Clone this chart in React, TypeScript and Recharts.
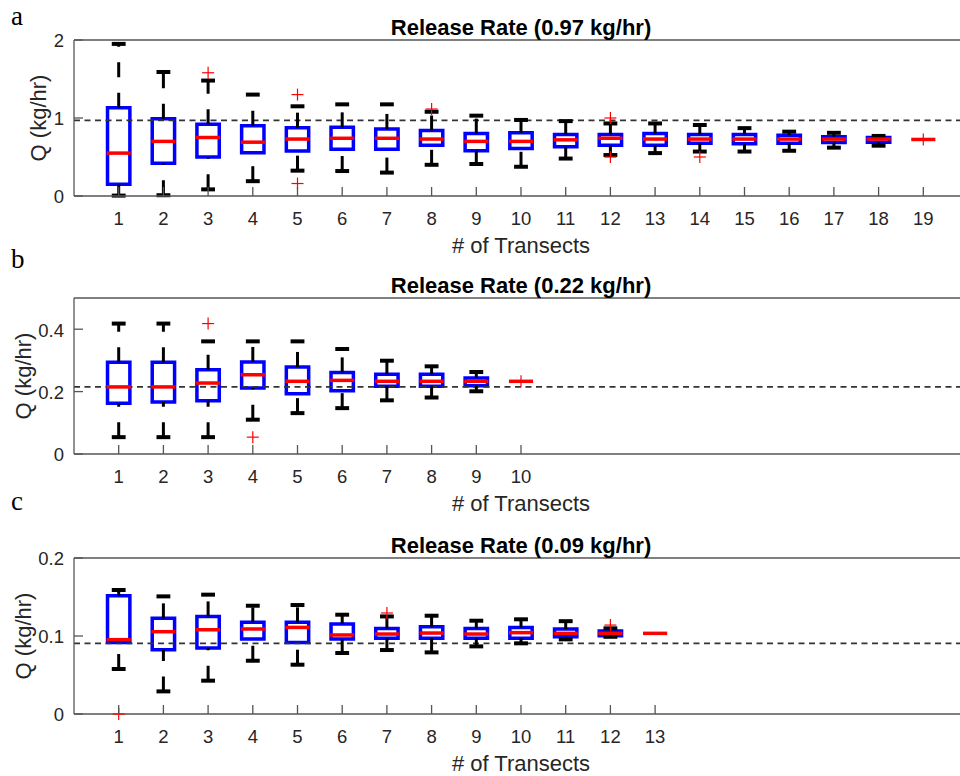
import React from "react";
import { ComposedChart, XAxis, YAxis, ReferenceArea, ReferenceLine, Scatter } from "recharts";

// ---- data (Q in kg/hr) ----
const aTicks = [1, 2, 3, 4, 5, 6, 7, 8, 9, 10, 11, 12, 13, 14, 15, 16, 17, 18, 19];
const aLow = [0.005, 0.01, 0.085, 0.19, 0.325, 0.32, 0.3, 0.4, 0.41, 0.375, 0.48, 0.525, 0.55, 0.57, 0.57, 0.58, 0.62, 0.645, 0.725];
const aQ1 = [0.15, 0.42, 0.5, 0.555, 0.577, 0.6, 0.6, 0.65, 0.58, 0.61, 0.63, 0.65, 0.65, 0.675, 0.67, 0.675, 0.685, 0.69, 0.725];
const aMed = [0.55, 0.7, 0.75, 0.69, 0.73, 0.74, 0.74, 0.73, 0.7, 0.7, 0.72, 0.74, 0.73, 0.73, 0.73, 0.73, 0.73, 0.73, 0.725];
const aQ3 = [1.13, 0.99, 0.92, 0.9, 0.876, 0.88, 0.86, 0.84, 0.8, 0.81, 0.79, 0.79, 0.8, 0.79, 0.79, 0.78, 0.76, 0.75, 0.725];
const aHigh = [1.95, 1.59, 1.48, 1.3, 1.15, 1.175, 1.175, 1.08, 1.03, 0.975, 0.96, 0.93, 0.93, 0.91, 0.87, 0.825, 0.81, 0.77, 0.725];
const aOutliers = [
  { x: 3, y: 1.58 },
  { x: 5, y: 1.3 },
  { x: 5, y: 0.16 },
  { x: 8, y: 1.115 },
  { x: 12, y: 1.0 },
  { x: 12, y: 0.5 },
  { x: 14, y: 0.5 },
  { x: 19, y: 0.725 },
];
const aRelease = 0.97;

const bTicks = [1, 2, 3, 4, 5, 6, 7, 8, 9, 10];
const bLow = [0.054, 0.054, 0.054, 0.11, 0.131, 0.147, 0.172, 0.181, 0.201, 0.233];
const bQ1 = [0.163, 0.167, 0.171, 0.2115, 0.193, 0.203, 0.217, 0.217, 0.219, 0.233];
const bMed = [0.215, 0.215, 0.2275, 0.254, 0.233, 0.236, 0.233, 0.233, 0.233, 0.233];
const bQ3 = [0.294, 0.294, 0.27, 0.295, 0.279, 0.2615, 0.256, 0.256, 0.2436, 0.233];
const bHigh = [0.418, 0.418, 0.361, 0.361, 0.361, 0.3365, 0.299, 0.281, 0.2628, 0.233];
const bOutliers = [
  { x: 3, y: 0.418 },
  { x: 4, y: 0.054 },
  { x: 10, y: 0.233 },
];
const bRelease = 0.215;

const cTicks = [1, 2, 3, 4, 5, 6, 7, 8, 9, 10, 11, 12, 13];
const cLow = [0.0577, 0.029, 0.0427, 0.0683, 0.0632, 0.0782, 0.082, 0.079, 0.0867, 0.0906, 0.0957, 0.099, 0.1034];
const cQ1 = [0.0918, 0.0824, 0.0846, 0.0962, 0.0918, 0.0962, 0.097, 0.097, 0.097, 0.097, 0.099, 0.1004, 0.1034];
const cMed = [0.0953, 0.1055, 0.108, 0.109, 0.111, 0.1013, 0.1025, 0.1038, 0.1025, 0.1043, 0.1034, 0.1034, 0.1034];
const cQ3 = [0.1517, 0.1226, 0.1251, 0.1175, 0.1175, 0.1154, 0.1097, 0.112, 0.1097, 0.111, 0.109, 0.1064, 0.1034];
const cHigh = [0.159, 0.1508, 0.153, 0.1388, 0.1397, 0.1273, 0.1251, 0.126, 0.1196, 0.1214, 0.119, 0.1098, 0.1034];
const cOutliers = [
  { x: 1, y: 0 },
  { x: 7, y: 0.1295 },
  { x: 12, y: 0.114 },
];
const cRelease = 0.0905;

// ---- styling ----
const BLUE = "#0000ff";
const RED = "#ff0000";
const INK = "#262626";
const AXIS = "#555555";
const SANS = "'Liberation Sans', Arial, Helvetica, sans-serif";
const SERIF = "'Liberation Serif', 'Times New Roman', serif";
const W = 980;
const H = 776;
const LEFT = 74;
const RIGHT = 968;
const TICK = 9;
const BOX_HALF = 0.25;
const MED_HALF = 0.27;
const CAP_HALF = 0.155;

const BottomTick = ({ x, y, payload }: any) => (
  <g>
    <line x1={x} y1={y} x2={x} y2={y - TICK} stroke={AXIS} strokeWidth={1.3} />
    <text x={x} y={y + 28.5} textAnchor="middle" fontSize={18.5} fontFamily={SANS} fill={INK}>
      {payload.value}
    </text>
  </g>
);

const TopTick = ({ x, y }: any) => (
  <line x1={x} y1={y} x2={x} y2={y + TICK} stroke={AXIS} strokeWidth={1.3} />
);

const LeftTick = ({ x, y, payload }: any) => (
  <g>
    <line x1={x} y1={y} x2={x + TICK} y2={y} stroke={AXIS} strokeWidth={1.3} />
    <text x={x - 10} y={y} dy="0.4em" textAnchor="end" fontSize={18.5} fontFamily={SANS} fill={INK}>
      {payload.value}
    </text>
  </g>
);

const RightTick = ({ x, y }: any) => (
  <line x1={x} y1={y} x2={x - TICK} y2={y} stroke={AXIS} strokeWidth={1.3} />
);

const Plus = ({ cx, cy }: any) => (
  <g stroke={RED} strokeWidth={1.2}>
    <line x1={cx - 6} y1={cy} x2={cx + 6} y2={cy} />
    <line x1={cx} y1={cy - 6} x2={cx} y2={cy + 6} />
  </g>
);

interface PanelProps {
  top: number;
  bottom: number;
  yMax: number;
  yTicks: number[];
  xTicks: number[];
  low: number[];
  q1: number[];
  med: number[];
  q3: number[];
  high: number[];
  outliers: { x: number; y: number }[];
  release: number;
}

function boxMarks(p: PanelProps) {
  return p.med.flatMap((m, i) => {
    const x = i + 1;
    const marks: React.ReactElement[] = [];
    if (p.high[i] > p.low[i]) {
      marks.push(
        <ReferenceLine
          key={`wl${i}`}
          segment={[{ x, y: p.low[i] }, { x, y: p.q1[i] }]}
          stroke="#000"
          strokeWidth={3}
          strokeDasharray="15 15.5"
        />,
        <ReferenceLine
          key={`wh${i}`}
          segment={[{ x, y: p.q3[i] }, { x, y: p.high[i] }]}
          stroke="#000"
          strokeWidth={3}
          strokeDasharray="15 15.5"
        />,
        <ReferenceLine
          key={`cl${i}`}
          segment={[{ x: x - CAP_HALF, y: p.low[i] }, { x: x + CAP_HALF, y: p.low[i] }]}
          stroke="#000"
          strokeWidth={4}
        />,
        <ReferenceLine
          key={`ch${i}`}
          segment={[{ x: x - CAP_HALF, y: p.high[i] }, { x: x + CAP_HALF, y: p.high[i] }]}
          stroke="#000"
          strokeWidth={4}
        />,
        <ReferenceArea
          key={`bx${i}`}
          x1={x - BOX_HALF}
          x2={x + BOX_HALF}
          y1={p.q1[i]}
          y2={p.q3[i]}
          fill="none"
          stroke={BLUE}
          strokeWidth={3.5}
        />
      );
    }
    marks.push(
      <ReferenceLine
        key={`md${i}`}
        segment={[{ x: x - MED_HALF, y: m }, { x: x + MED_HALF, y: m }]}
        stroke={RED}
        strokeWidth={3.5}
      />
    );
    return marks;
  });
}

function BoxPanel(p: PanelProps) {
  return (
    <div style={{ position: "absolute", left: 0, top: 0 }}>
      <ComposedChart
        width={W}
        height={H}
        margin={{ top: p.top - 1, right: W - RIGHT - 1, bottom: H - p.bottom - 1, left: LEFT - 1 }}
      >
        <XAxis
          dataKey="x"
          type="number"
          domain={[0, 20]}
          ticks={p.xTicks}
          interval={0}
          height={1}
          tickSize={0}
          tickMargin={0}
          tickLine={false}
          tick={<BottomTick />}
          axisLine={{ stroke: AXIS, strokeWidth: 1.3 }}
        />
        <XAxis
          xAxisId="top"
          orientation="top"
          type="number"
          domain={[0, 20]}
          ticks={p.xTicks}
          interval={0}
          height={1}
          tickSize={0}
          tickMargin={0}
          tickLine={false}
          tick={<TopTick />}
          axisLine={{ stroke: AXIS, strokeWidth: 1.3 }}
        />
        <YAxis
          dataKey="y"
          type="number"
          domain={[0, p.yMax]}
          ticks={p.yTicks}
          interval={0}
          width={1}
          tickSize={0}
          tickMargin={0}
          tickLine={false}
          tick={<LeftTick />}
          axisLine={{ stroke: AXIS, strokeWidth: 1.3 }}
        />
        <YAxis
          yAxisId="right"
          orientation="right"
          type="number"
          domain={[0, p.yMax]}
          ticks={p.yTicks}
          interval={0}
          width={1}
          tickSize={0}
          tickMargin={0}
          tickLine={false}
          tick={<RightTick />}
          axisLine={{ stroke: AXIS, strokeWidth: 1.3 }}
        />
        <ReferenceLine y={p.release} stroke="#333333" strokeWidth={1.7} strokeDasharray="6 4.5" />
        {boxMarks(p)}
        <Scatter data={p.outliers} shape={<Plus />} isAnimationActive={false} />
      </ComposedChart>
    </div>
  );
}

const panelLetters = ["a", "b", "c"];
const panelTitles = ["Release Rate (0.97 kg/hr)", "Release Rate (0.22 kg/hr)", "Release Rate (0.09 kg/hr)"];
const PANEL_TOP = [40, 298, 558];
const PANEL_BOTTOM = [196, 454, 714];
const LETTER_Y = [25, 268, 510];
const YLABEL_X = [46, 31, 31];

export default function App() {
  return (
    <div
      style={{
        position: "absolute",
        left: 0,
        top: 0,
        width: 960,
        height: H,
        overflow: "hidden",
        background: "#ffffff",
      }}
    >
      <BoxPanel
        top={PANEL_TOP[0]}
        bottom={PANEL_BOTTOM[0]}
        yMax={2}
        yTicks={[0, 1, 2]}
        xTicks={aTicks}
        low={aLow}
        q1={aQ1}
        med={aMed}
        q3={aQ3}
        high={aHigh}
        outliers={aOutliers}
        release={aRelease}
      />
      <BoxPanel
        top={PANEL_TOP[1]}
        bottom={PANEL_BOTTOM[1]}
        yMax={0.5}
        yTicks={[0, 0.2, 0.4]}
        xTicks={bTicks}
        low={bLow}
        q1={bQ1}
        med={bMed}
        q3={bQ3}
        high={bHigh}
        outliers={bOutliers}
        release={bRelease}
      />
      <BoxPanel
        top={PANEL_TOP[2]}
        bottom={PANEL_BOTTOM[2]}
        yMax={0.2}
        yTicks={[0, 0.1, 0.2]}
        xTicks={cTicks}
        low={cLow}
        q1={cQ1}
        med={cMed}
        q3={cQ3}
        high={cHigh}
        outliers={cOutliers}
        release={cRelease}
      />
      <svg
        width={960}
        height={H}
        style={{ position: "absolute", left: 0, top: 0, pointerEvents: "none" }}
      >
        {panelLetters.map((l, i) => (
          <text key={l} x={11} y={LETTER_Y[i]} fontSize={27} fontFamily={SERIF} fill="#000">
            {l}
          </text>
        ))}
        {panelTitles.map((t, i) => (
          <text
            key={t}
            x={(LEFT + RIGHT) / 2}
            y={PANEL_TOP[i] - 5.5}
            textAnchor="middle"
            fontSize={22}
            fontWeight="bold"
            fontFamily={SANS}
            fill="#000"
          >
            {t}
          </text>
        ))}
        {PANEL_BOTTOM.map((b, i) => (
          <text
            key={`xl${i}`}
            x={(LEFT + RIGHT) / 2}
            y={b + 56.5}
            textAnchor="middle"
            fontSize={22}
            fontFamily={SANS}
            fill={INK}
          >
            # of Transects
          </text>
        ))}
        {PANEL_TOP.map((t, i) => {
          const cy = (t + PANEL_BOTTOM[i]) / 2;
          return (
            <text
              key={`yl${i}`}
              x={YLABEL_X[i]}
              y={cy}
              transform={`rotate(-90 ${YLABEL_X[i]} ${cy})`}
              textAnchor="middle"
              fontSize={22}
              fontFamily={SANS}
              fill={INK}
            >
              Q (kg/hr)
            </text>
          );
        })}
      </svg>
    </div>
  );
}
